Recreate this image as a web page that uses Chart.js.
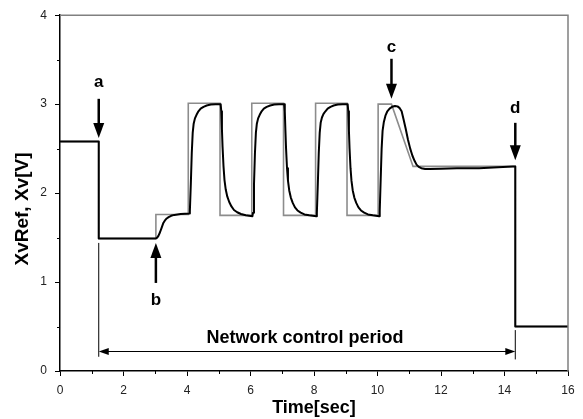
<!DOCTYPE html>
<html>
<head>
<meta charset="utf-8">
<script src="https://cdn.jsdelivr.net/npm/chart.js@4/dist/chart.umd.min.js"></script>
<style>
  html, body { margin: 0; padding: 0; background: #fff; }
  #wrap { width: 583px; height: 419px; }
</style>
</head>
<body>
<div id="wrap"><canvas id="c"></canvas></div>
<script>
// reference signal XvRef (grey)
const refTime  = [0, 1.22, 1.22, 3.02, 3.02, 4.04, 4.04, 5.04, 5.04, 6.04, 6.04, 7.04, 7.04, 8.05, 8.05, 9.04, 9.04, 10.02, 10.02, 10.44, 11.12, 14.34, 14.34, 16];
const refValue = [2.58, 2.58, 1.49, 1.49, 1.76, 1.76, 3.01, 3.01, 1.75, 1.75, 3.01, 3.01, 1.75, 1.75, 3.01, 3.01, 1.75, 1.75, 3.0, 3.0, 2.3, 2.3, 0.5, 0.5];

// measured Xv (black)
const xvTime = [0, 1.22, 1.22, 3.02, 3.06, 3.1, 3.15, 3.2, 3.25, 3.3, 3.36, 3.42, 3.5, 3.6, 3.8, 4.07,
  4.09, 4.12, 4.15, 4.18, 4.21, 4.25, 4.3, 4.36, 4.43, 4.52, 4.62, 4.75, 4.9, 5.06,
  5.08, 5.1, 5.12, 5.15, 5.18, 5.22, 5.27, 5.33, 5.4, 5.48, 5.58, 5.7, 5.85, 6.06,
  6.08, 6.11, 6.14, 6.17, 6.2, 6.24, 6.29, 6.35, 6.42, 6.51, 6.62, 6.75, 6.9, 7.06,
  7.08, 7.1, 7.12, 7.15, 7.18, 7.22, 7.27, 7.33, 7.4, 7.48, 7.58, 7.7, 7.85, 8.07,
  8.09, 8.12, 8.15, 8.18, 8.21, 8.25, 8.3, 8.36, 8.43, 8.52, 8.62, 8.75, 8.9, 9.06,
  9.08, 9.1, 9.12, 9.15, 9.18, 9.22, 9.27, 9.33, 9.4, 9.48, 9.58, 9.7, 9.85, 10.05,
  10.07, 10.1, 10.13, 10.16, 10.2, 10.25, 10.31, 10.38, 10.46, 10.55, 10.63, 10.7, 10.76,
  10.82, 10.89, 10.96, 11.03, 11.1, 11.17, 11.23, 11.3, 11.38, 11.5, 11.65, 12.0, 12.5, 13.2, 13.8, 14.26, 14.34, 14.34, 16];
const xvValue = [2.58, 2.58, 1.49, 1.49, 1.5, 1.52, 1.56, 1.61, 1.66, 1.69, 1.715, 1.73, 1.745, 1.755, 1.765, 1.77,
  1.8, 2.1, 2.45, 2.68, 2.78, 2.84, 2.88, 2.92, 2.95, 2.97, 2.985, 2.995, 3.0, 3.0,
  2.92, 2.72, 2.52, 2.3, 2.15, 2.04, 1.96, 1.9, 1.85, 1.81, 1.785, 1.765, 1.75, 1.74,
  1.78, 2.1, 2.45, 2.68, 2.78, 2.84, 2.88, 2.92, 2.95, 2.97, 2.985, 2.995, 3.0, 3.0,
  2.92, 2.7, 2.5, 2.28, 2.14, 2.03, 1.95, 1.89, 1.84, 1.805, 1.78, 1.76, 1.75, 1.74,
  1.78, 2.1, 2.45, 2.68, 2.79, 2.85, 2.89, 2.92, 2.95, 2.97, 2.985, 2.995, 3.0, 3.0,
  2.92, 2.7, 2.5, 2.28, 2.14, 2.03, 1.95, 1.89, 1.84, 1.805, 1.78, 1.76, 1.75, 1.74,
  1.8, 2.15, 2.5, 2.7, 2.8, 2.87, 2.92, 2.95, 2.97, 2.98, 2.975, 2.955, 2.92,
  2.83, 2.72, 2.6, 2.5, 2.42, 2.36, 2.32, 2.295, 2.28, 2.272, 2.27, 2.275, 2.28, 2.28, 2.29, 2.3, 2.3, 0.5, 0.5];

const xTicks = [0, 2, 4, 6, 8, 10, 12, 14, 16];
const yTicks = [0, 1, 2, 3, 4];

// arrow marks: label, x, tail y, tip y, label y
const markLabel = ['a', 'b', 'c', 'd'];
const markX     = [1.22, 3.02, 10.44, 14.34];
const markTail  = [3.06, 0.99, 3.51, 2.79];
const markTip   = [2.62, 1.44, 3.06, 2.37];
const markText  = [3.24, 0.80, 3.64, 2.95];

const periodStart = 1.22, periodEnd = 14.34, periodY = 0.23;

function pts(xs, ys) { return xs.map((x, i) => ({ x: x, y: ys[i] })); }

function arrowHead(ctx, x, y, dx, dy, len, half) {
  const px = -dy, py = dx;
  ctx.beginPath();
  ctx.moveTo(x, y);
  ctx.lineTo(x - dx * len + px * half, y - dy * len + py * half);
  ctx.lineTo(x - dx * len - px * half, y - dy * len - py * half);
  ctx.closePath();
  ctx.fill();
}

const decor = {
  id: 'decor',
  afterDraw(chart) {
    const ctx = chart.ctx, a = chart.chartArea;
    const sx = chart.scales.x, sy = chart.scales.y;
    ctx.save();
    // grey frame top/right
    ctx.strokeStyle = '#808080';
    ctx.lineWidth = 1.5;
    ctx.beginPath();
    ctx.moveTo(a.left, a.top); ctx.lineTo(a.right, a.top); ctx.lineTo(a.right, a.bottom);
    ctx.stroke();
    // minor ticks
    ctx.strokeStyle = '#000';
    ctx.lineWidth = 1;
    ctx.beginPath();
    for (let v = 1; v < 16; v += 2) {
      const x = Math.round(sx.getPixelForValue(v)) + 0.5;
      ctx.moveTo(x, a.bottom); ctx.lineTo(x, a.bottom + 3);
    }
    for (let v = 0.5; v < 4; v += 1) {
      const y = Math.round(sy.getPixelForValue(v)) + 0.5;
      ctx.moveTo(a.left, y); ctx.lineTo(a.left - 3, y);
    }
    ctx.stroke();

    // axis titles
    ctx.fillStyle = '#000';
    ctx.font = 'bold 18px "Liberation Sans", Arial, sans-serif';
    ctx.textAlign = 'center';
    ctx.textBaseline = 'middle';
    ctx.fillText('Time[sec]', (a.left + a.right) / 2, 408);
    ctx.save();
    ctx.translate(23, 209);
    ctx.rotate(-Math.PI / 2);
    ctx.font = 'bold 19px "Liberation Sans", Arial, sans-serif';
    ctx.fillText('XvRef, Xv[V]', 0, 0);
    ctx.restore();

    // arrows a-d
    ctx.lineWidth = 2.5;
    ctx.font = 'bold 17px "Liberation Sans", Arial, sans-serif';
    markLabel.forEach((lab, i) => {
      const x = sx.getPixelForValue(markX[i]);
      const y0 = sy.getPixelForValue(markTail[i]);
      const y1 = sy.getPixelForValue(markTip[i]);
      const dir = y1 > y0 ? 1 : -1;
      ctx.beginPath();
      ctx.moveTo(x, y0); ctx.lineTo(x, y1 - dir * 10);
      ctx.stroke();
      arrowHead(ctx, x, y1, 0, dir, 15, 5.5);
      ctx.fillText(lab, x, sy.getPixelForValue(markText[i]));
    });

    // network control period
    const xl = sx.getPixelForValue(periodStart), xr = sx.getPixelForValue(periodEnd);
    const yp = Math.round(sy.getPixelForValue(periodY)) + 0.5;
    ctx.lineWidth = 1;
    ctx.beginPath();
    ctx.moveTo(xl, sy.getPixelForValue(1.44)); ctx.lineTo(xl, sy.getPixelForValue(0.16));
    ctx.moveTo(xr, sy.getPixelForValue(0.46)); ctx.lineTo(xr, sy.getPixelForValue(0.13));
    ctx.moveTo(xl + 8, yp); ctx.lineTo(xr - 8, yp);
    ctx.stroke();
    arrowHead(ctx, xl, yp, -1, 0, 10, 3.5);
    arrowHead(ctx, xr, yp, 1, 0, 10, 3.5);
    ctx.font = 'bold 18px "Liberation Sans", Arial, sans-serif';
    ctx.fillText('Network control period', 305, sy.getPixelForValue(0.37));
    ctx.restore();
  }
};

new Chart(document.getElementById('c'), {
  type: 'line',
  data: {
    datasets: [{
      label: 'Xv',
      data: pts(xvTime, xvValue),
      borderColor: '#000',
      borderWidth: 2,
      pointRadius: 0,
      tension: 0,
      borderJoinStyle: 'round',
      order: 0
    }, {
      label: 'XvRef',
      data: pts(refTime, refValue),
      borderColor: '#8c8c8c',
      borderWidth: 1.6,
      pointRadius: 0,
      tension: 0,
      order: 1
    }]
  },
  options: {
    responsive: true,
    maintainAspectRatio: false,
    animation: false,
    layout: { padding: { left: 0, top: 14, right: 15, bottom: 0 } },
    plugins: { legend: { display: false }, tooltip: { enabled: false } },
    scales: {
      x: {
        type: 'linear', min: 0, max: 16,
        afterBuildTicks: s => { s.ticks = xTicks.map(v => ({ value: v })); },
        afterFit: s => { s.height = 48; },
        ticks: { color: '#222', font: { size: 12, family: '"Liberation Sans", Arial, sans-serif' }, padding: 7, maxRotation: 0 },
        grid: { drawOnChartArea: false, tickLength: 5, color: '#000' },
        border: { color: '#000', width: 1.5 }
      },
      y: {
        min: 0, max: 4,
        afterBuildTicks: s => { s.ticks = yTicks.map(v => ({ value: v })); },
        afterFit: s => { s.width = 60; },
        ticks: { color: '#222', font: { size: 12, family: '"Liberation Sans", Arial, sans-serif' }, padding: 8 },
        grid: { drawOnChartArea: false, tickLength: 5, color: '#000' },
        border: { color: '#000', width: 1.5 }
      }
    }
  },
  plugins: [decor]
});
</script>
</body>
</html>
